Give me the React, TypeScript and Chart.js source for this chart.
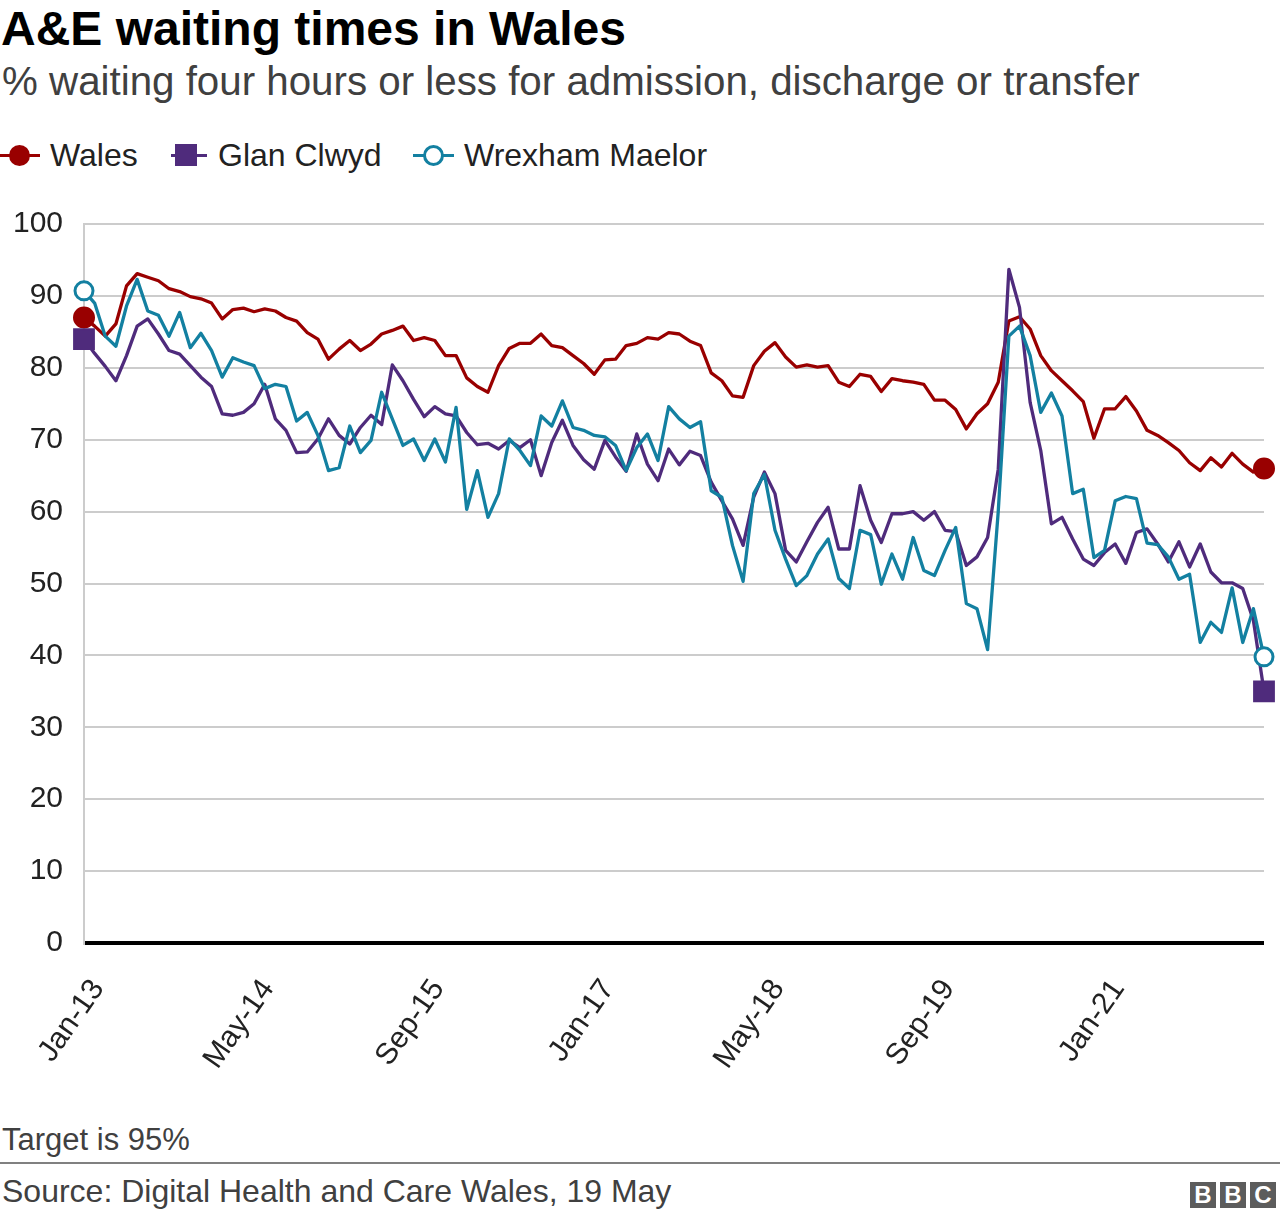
import React, { useEffect, useRef } from 'react';
import { Chart, registerables } from 'chart.js';

Chart.register(...registerables);

const FONT = '"Liberation Sans", Arial, Helvetica, sans-serif';
const RED = '#990000';
const PURPLE = '#4f2b7c';
const TEAL = '#1380a1';

const months = [
  'Jan-13', 'Feb-13', 'Mar-13', 'Apr-13', 'May-13', 'Jun-13', 'Jul-13', 'Aug-13', 'Sep-13', 'Oct-13', 'Nov-13', 'Dec-13',
  'Jan-14', 'Feb-14', 'Mar-14', 'Apr-14', 'May-14', 'Jun-14', 'Jul-14', 'Aug-14', 'Sep-14', 'Oct-14', 'Nov-14', 'Dec-14',
  'Jan-15', 'Feb-15', 'Mar-15', 'Apr-15', 'May-15', 'Jun-15', 'Jul-15', 'Aug-15', 'Sep-15', 'Oct-15', 'Nov-15', 'Dec-15',
  'Jan-16', 'Feb-16', 'Mar-16', 'Apr-16', 'May-16', 'Jun-16', 'Jul-16', 'Aug-16', 'Sep-16', 'Oct-16', 'Nov-16', 'Dec-16',
  'Jan-17', 'Feb-17', 'Mar-17', 'Apr-17', 'May-17', 'Jun-17', 'Jul-17', 'Aug-17', 'Sep-17', 'Oct-17', 'Nov-17', 'Dec-17',
  'Jan-18', 'Feb-18', 'Mar-18', 'Apr-18', 'May-18', 'Jun-18', 'Jul-18', 'Aug-18', 'Sep-18', 'Oct-18', 'Nov-18', 'Dec-18',
  'Jan-19', 'Feb-19', 'Mar-19', 'Apr-19', 'May-19', 'Jun-19', 'Jul-19', 'Aug-19', 'Sep-19', 'Oct-19', 'Nov-19', 'Dec-19',
  'Jan-20', 'Feb-20', 'Mar-20', 'Apr-20', 'May-20', 'Jun-20', 'Jul-20', 'Aug-20', 'Sep-20', 'Oct-20', 'Nov-20', 'Dec-20',
  'Jan-21', 'Feb-21', 'Mar-21', 'Apr-21', 'May-21', 'Jun-21', 'Jul-21', 'Aug-21', 'Sep-21', 'Oct-21', 'Nov-21', 'Dec-21',
  'Jan-22', 'Feb-22', 'Mar-22', 'Apr-22',
];

const xTickLabels = ['Jan-13', 'May-14', 'Sep-15', 'Jan-17', 'May-18', 'Sep-19', 'Jan-21'];

const wales = [
  87, 85.8, 84.4, 86.1, 91.4, 93.1, 92.6, 92.1, 91, 90.6, 89.9, 89.6,
  89, 86.8, 88.1, 88.3, 87.8, 88.2, 87.9, 87, 86.5, 84.9, 84, 81.2,
  82.6, 83.8, 82.4, 83.3, 84.7, 85.2, 85.8, 83.8, 84.2, 83.8, 81.7, 81.7,
  78.6, 77.4, 76.6, 80.3, 82.7, 83.4, 83.4, 84.7, 83.1, 82.8, 81.7, 80.6,
  79.1, 81.1, 81.2, 83.1, 83.4, 84.2, 84, 84.9, 84.7, 83.7, 83.1, 79.3,
  78.2, 76.1, 75.9, 80.3, 82.3, 83.5, 81.5, 80.1, 80.4, 80.1, 80.3, 78,
  77.4, 79.1, 78.8, 76.7, 78.5, 78.2, 78, 77.7, 75.5, 75.5, 74.2, 71.5,
  73.6, 75, 78, 86.5, 87.1, 85.4, 81.7, 79.6, 78.2, 76.8, 75.3, 70.2,
  74.3, 74.3, 76, 74, 71.3, 70.6, 69.6, 68.5, 66.8, 65.7, 67.5, 66.2,
  68.1, 66.6, 65.5, 66,
];

const glanClwyd = [
  84, 82, 80.2, 78.2, 81.7, 85.8, 86.8, 84.7, 82.4, 81.9, 80.3, 78.7,
  77.4, 73.6, 73.4, 73.8, 75, 77.7, 72.9, 71.3, 68.2, 68.3, 70.1, 72.9,
  70.6, 69.4, 71.7, 73.4, 72.1, 80.4, 78.2, 75.6, 73.2, 74.6, 73.6, 73.3,
  71, 69.3, 69.5, 68.7, 69.9, 68.9, 70, 65, 69.6, 72.7, 69.2, 67.2,
  65.9, 69.9, 67.6, 65.6, 70.8, 66.6, 64.3, 68.7, 66.5, 68.4, 67.8, 64.1,
  61.5, 59, 55.3, 62, 65.5, 62.5, 54.6, 53, 55.8, 58.5, 60.6, 54.8,
  54.8, 63.6, 58.8, 55.7, 59.7, 59.7, 60, 58.8, 60, 57.4, 57.2, 52.5,
  53.7, 56.4, 65.9, 93.7, 88.4, 75.2, 68.5, 58.3, 59.2, 56.2, 53.4, 52.5,
  54.3, 55.5, 52.8, 57.1, 57.6, 55.5, 53, 55.8, 52.3, 55.5, 51.6, 50.1,
  50.1, 49.3, 44.9, 35,
];

const wrexhamMaelor = [
  90.7, 89, 84.4, 83, 88.6, 92.3, 87.9, 87.3, 84.4, 87.7, 82.8, 84.8,
  82.4, 78.7, 81.4, 80.8, 80.3, 77.1, 77.7, 77.4, 72.6, 73.8, 70.6, 65.7,
  66.1, 71.9, 68.2, 69.9, 76.6, 72.9, 69.2, 70.1, 67.1, 70.1, 66.9, 74.5,
  60.3, 65.7, 59.2, 62.5, 70.1, 68.5, 66.4, 73.3, 71.9, 75.4, 71.7, 71.3,
  70.6, 70.4, 69.2, 65.7, 68.9, 70.8, 67.1, 74.6, 72.9, 71.7, 72.5, 62.9,
  62, 55.3, 50.3, 62.5, 65.2, 57.4, 53.4, 49.7, 51.1, 54.1, 56.2, 50.7,
  49.3, 57.4, 56.8, 49.9, 54.1, 50.6, 56.4, 51.8, 51.1, 54.6, 57.8, 47.2,
  46.5, 40.8, 60, 84.4, 85.8, 81.7, 73.8, 76.5, 73.3, 62.5, 63.1, 53.6,
  54.6, 61.5, 62.1, 61.8, 55.6, 55.4, 53.7, 50.6, 51.3, 41.8, 44.6, 43.2,
  49.4, 41.8, 46.5, 39.8,
];

const endPoint = (r: number) => (ctx: any) =>
  ctx.dataIndex === 0 || ctx.dataIndex === months.length - 1 ? r : 0;

function ChartCanvas() {
  const ref = useRef<HTMLCanvasElement | null>(null);
  useEffect(() => {
    if (!ref.current) return;
    const chart = new Chart(ref.current, {
      type: 'line',
      data: {
        labels: months,
        datasets: [
          {
            label: 'Wales',
            data: wales,
            borderColor: RED,
            backgroundColor: RED,
            borderWidth: 3.3,
            borderJoinStyle: 'round',
            tension: 0,
            pointStyle: 'circle',
            pointRadius: endPoint(9.5),
            pointHoverRadius: endPoint(9.5),
            pointBorderWidth: 3,
            pointBackgroundColor: RED,
            pointBorderColor: RED,
            clip: false,
            order: 2,
          } as any,
          {
            label: 'Glan Clwyd',
            data: glanClwyd,
            borderColor: PURPLE,
            backgroundColor: PURPLE,
            borderWidth: 3.3,
            borderJoinStyle: 'round',
            tension: 0,
            pointStyle: 'rect',
            pointRadius: endPoint(14),
            pointHoverRadius: endPoint(14),
            pointBorderWidth: 2,
            pointBackgroundColor: PURPLE,
            pointBorderColor: PURPLE,
            clip: false,
            order: 1,
          } as any,
          {
            label: 'Wrexham Maelor',
            data: wrexhamMaelor,
            borderColor: TEAL,
            backgroundColor: '#ffffff',
            borderWidth: 3.3,
            borderJoinStyle: 'round',
            tension: 0,
            pointStyle: 'circle',
            pointRadius: endPoint(9),
            pointHoverRadius: endPoint(9),
            pointBorderWidth: 3,
            pointBackgroundColor: '#ffffff',
            pointBorderColor: TEAL,
            clip: false,
            order: 0,
          } as any,
        ],
      },
      options: {
        animation: false,
        responsive: false,
        devicePixelRatio: 1,
        layout: { padding: { left: 0, right: 15, top: 28, bottom: 0 } },
        plugins: {
          legend: { display: false },
          tooltip: { enabled: false },
          title: { display: false },
        },
        events: [],
        scales: {
          x: {
            type: 'category',
            offset: false,
            grid: { display: false },
            border: { display: false },
            ticks: {
              autoSkip: false,
              maxRotation: 55,
              minRotation: 55,
              padding: 22,
              labelOffset: 14,
              color: '#222222',
              font: { size: 30, family: FONT },
              callback: (_v: any, i: number) =>
                xTickLabels.includes(months[i]) ? months[i] : null,
            },
            afterFit: (s: any) => {
              s.height = 162;
            },
          },
          y: {
            min: 0,
            max: 100,
            ticks: {
              stepSize: 10,
              padding: 21,
              color: '#222222',
              font: { size: 30, family: FONT },
            },
            grid: {
              drawTicks: false,
              color: (c: any) => (c.tick && c.tick.value === 0 ? '#000000' : '#cccccc'),
              lineWidth: (c: any) => (c.tick && c.tick.value === 0 ? 4 : 2),
            },
            border: { display: true, color: '#cccccc', width: 2 },
            afterFit: (s: any) => {
              s.width = 84;
            },
          },
        },
      } as any,
    });
    return () => chart.destroy();
  }, []);
  return <canvas ref={ref} width={1280} height={920} style={{ display: 'block', width: 1280, height: 920 }} />;
}

const textBase: React.CSSProperties = {
  position: 'absolute',
  margin: 0,
  whiteSpace: 'nowrap',
  fontFamily: FONT,
};

export default function App() {
  return (
    <div
      style={{
        position: 'fixed',
        left: 0,
        top: 0,
        width: 1280,
        height: 1218,
        background: '#ffffff',
        overflow: 'hidden',
        fontFamily: FONT,
      }}
    >
      <div style={{ ...textBase, left: 1, top: 5, fontSize: 48, lineHeight: '48px', fontWeight: 700, color: '#000000' }}>
        A&amp;E waiting times in Wales
      </div>
      <div style={{ ...textBase, left: 2, top: 62, fontSize: 40.3, lineHeight: '40px', color: '#404040' }}>
        % waiting four hours or less for admission, discharge or transfer
      </div>

      {/* Legend */}
      <div style={{ position: 'absolute', left: 0, top: 154, width: 40, height: 3, background: RED }} />
      <div style={{ position: 'absolute', left: 9, top: 145, width: 21, height: 21, borderRadius: '50%', background: RED }} />
      <div style={{ ...textBase, left: 50, top: 139, fontSize: 32, lineHeight: '32px', color: '#222222' }}>Wales</div>

      <div style={{ position: 'absolute', left: 171, top: 154, width: 36, height: 3, background: PURPLE }} />
      <div style={{ position: 'absolute', left: 175, top: 144, width: 22, height: 22, background: PURPLE }} />
      <div style={{ ...textBase, left: 218, top: 139, fontSize: 32, lineHeight: '32px', color: '#222222' }}>Glan Clwyd</div>

      <div style={{ position: 'absolute', left: 413, top: 154, width: 41, height: 3, background: TEAL }} />
      <div
        style={{
          position: 'absolute',
          left: 423,
          top: 145,
          width: 15,
          height: 15,
          borderRadius: '50%',
          background: '#ffffff',
          border: `3px solid ${TEAL}`,
        }}
      />
      <div style={{ ...textBase, left: 464, top: 139, fontSize: 32, lineHeight: '32px', color: '#222222' }}>Wrexham Maelor</div>

      <div style={{ position: 'absolute', left: 0, top: 185, width: 1280, height: 920 }}>
        <ChartCanvas />
      </div>

      <div style={{ ...textBase, left: 2, top: 1124, fontSize: 31, lineHeight: '31px', color: '#404040' }}>Target is 95%</div>
      <div style={{ position: 'absolute', left: 0, top: 1162, width: 1280, height: 2, background: '#808080' }} />
      <div style={{ ...textBase, left: 2, top: 1175, fontSize: 32, lineHeight: '32px', color: '#404040' }}>
        Source: Digital Health and Care Wales, 19 May
      </div>

      {['B', 'B', 'C'].map((ch, i) => (
        <div
          key={i}
          style={{
            position: 'absolute',
            left: 1190 + i * 30,
            top: 1182,
            width: 26,
            height: 26,
            background: '#5c5c5c',
            color: '#ffffff',
            fontFamily: FONT,
            fontWeight: 700,
            fontSize: 24,
            lineHeight: '26px',
            textAlign: 'center',
          }}
        >
          {ch}
        </div>
      ))}
    </div>
  );
}
